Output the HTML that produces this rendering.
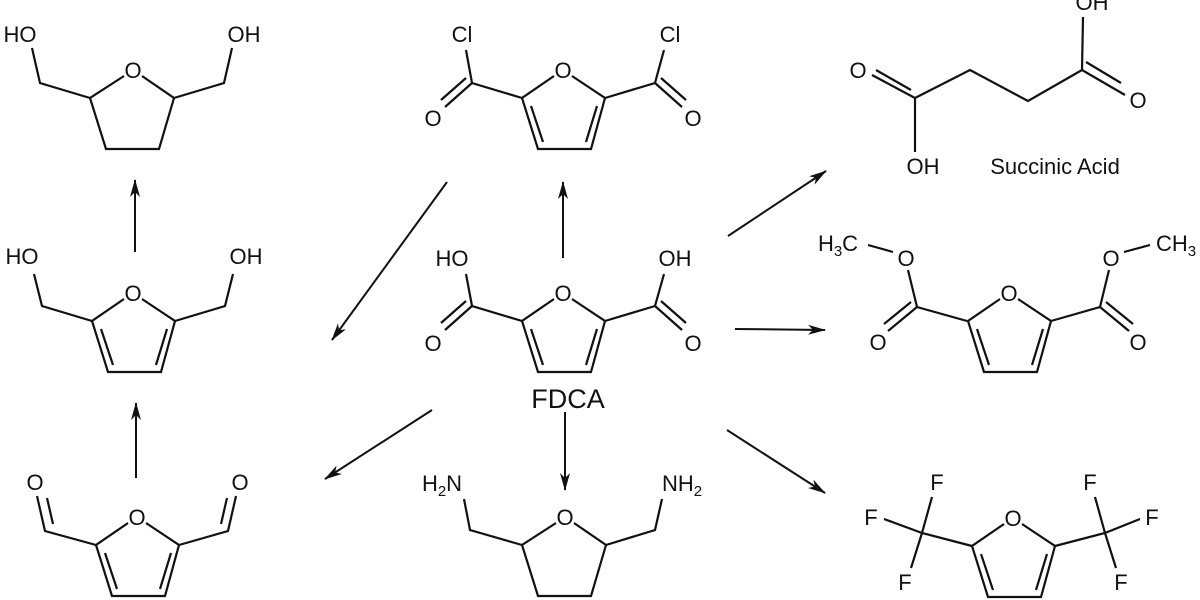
<!DOCTYPE html>
<html><head><style>
html,body{margin:0;padding:0;background:#fff;}
svg{display:block}
text{font-family:"Liberation Sans",Arial,sans-serif;font-size:22px;fill:#111;text-anchor:middle;}
</style></head><body>
<svg width="1200" height="600" viewBox="0 0 1200 600" xmlns="http://www.w3.org/2000/svg">
<defs>
<marker id="ah" viewBox="0 0 18 10" refX="17" refY="5" markerWidth="18" markerHeight="10" markerUnits="userSpaceOnUse" orient="auto">
<path d="M0,0 L18,5 L0,10 L5,5 Z" fill="#111"/>
</marker>
<g id="fur" stroke="#111" stroke-width="2.2" fill="none">
<path d="M-9,6 L-41,28 L-25,79 L28,79 L42,28 L9,6"/>
<path d="M-32,36 L-20,72 M23,72 L34,36"/>
</g>
<g id="thf" stroke="#111" stroke-width="2.2" fill="none">
<path d="M-9,6 L-43,28 L-27,79 L26,79 L41,28 L9,6"/>
</g>
</defs>

<g stroke="#111" stroke-width="2.2" fill="none">
<use href="#thf" x="133" y="70"/>
<path d="M90,98 L40,83 L32,48 M174,98 L224,83 L232,48"/>
<use href="#fur" x="133" y="293"/>
<path d="M92,321 L42,306 L34,274 M175,321 L225,306 L233,274"/>
<use href="#fur" x="137" y="517"/>
<path d="M96,545 L45,531 L37,496 M53,524 L47,498 M179,545 L228,531 L236,496 M221,524 L227,498"/>
<use href="#fur" x="563" y="70"/>
<path d="M522,98 L472,83 L466,50 M472,83 L445,107 M466,78 L441,100 M605,98 L655,83 L664,50 M655,83 L682,107 M661,78 L686,100"/>
<use href="#fur" x="563" y="293"/>
<path d="M522,321 L472,306 L466,274 M472,306 L445,330 M466,301 L441,323 M605,321 L655,306 L664,274 M655,306 L682,330 M661,301 L686,323"/>
<use href="#thf" x="565" y="517"/>
<path d="M522,545 L470,530 L464,499 M606,545 L655,530 L662,499"/>
<path d="M915,98 L970,70 L1028,101 L1082,70 M915,98 L915,152 M915,98 L872,75 M911,90 L876,70 M1082,70 L1083,17 M1082,70 L1125,95 M1086,62 L1121,83"/>
<use href="#fur" x="1009" y="293"/>
<path d="M967,321 L917,307 L908,270 M917,307 L888,331 M911,302 L884,324 M868,245 L893,252 M1051,321 L1100,307 L1109,270 M1100,307 L1129,331 M1106,302 L1133,324 M1124,252 L1150,245"/>
<use href="#fur" x="1013" y="518"/>
<path d="M972,546 L922,533 L932,497 M922,533 L884,519 M922,533 L911,568 M1055,546 L1105,533 L1095,497 M1105,533 L1140,519 M1105,533 L1116,568"/>
</g>

<g stroke="#111" stroke-width="2" fill="none" marker-end="url(#ah)">
<line x1="135" y1="252" x2="135" y2="180"/>
<line x1="136" y1="478" x2="136" y2="403"/>
<line x1="563" y1="258" x2="563" y2="182"/>
<line x1="565" y1="412" x2="565" y2="490"/>
<line x1="447" y1="182" x2="332" y2="340"/>
<line x1="432" y1="410" x2="325" y2="479"/>
<line x1="728" y1="236" x2="826" y2="171"/>
<line x1="735" y1="329" x2="825" y2="330"/>
<line x1="727" y1="430" x2="825" y2="493"/>
</g>

<text x="133" y="78">O</text>
<text x="20" y="42">HO</text>
<text x="244" y="42">OH</text>

<text x="133" y="301">O</text>
<text x="22" y="264">HO</text>
<text x="246" y="264">OH</text>

<text x="137" y="525">O</text>
<text x="35" y="490">O</text>
<text x="240" y="490">O</text>

<text x="563" y="78">O</text>
<text x="462" y="42">Cl</text>
<text x="670" y="42">Cl</text>
<text x="433" y="126">O</text>
<text x="693" y="126">O</text>

<text x="563" y="301">O</text>
<text x="452" y="266">HO</text>
<text x="675" y="266">OH</text>
<text x="433" y="351">O</text>
<text x="693" y="351">O</text>
<text x="568" y="408" style="font-size:27px">FDCA</text>

<text x="565" y="525">O</text>
<text x="442" y="491">H<tspan style="font-size:15px" dy="5">2</tspan><tspan dy="-5">N</tspan></text>
<text x="682" y="491">NH<tspan style="font-size:15px" dy="5">2</tspan></text>

<text x="858" y="78">O</text>
<text x="923" y="174">OH</text>
<text x="1092" y="10">OH</text>
<text x="1138" y="108">O</text>
<text x="1055" y="174">Succinic Acid</text>

<text x="1009" y="301">O</text>
<text x="838" y="251">H<tspan style="font-size:15px" dy="5">3</tspan><tspan dy="-5">C</tspan></text>
<text x="906" y="266">O</text>
<text x="1111" y="266">O</text>
<text x="1176" y="251">CH<tspan style="font-size:15px" dy="5">3</tspan></text>
<text x="878" y="350">O</text>
<text x="1138" y="350">O</text>

<text x="1013" y="526">O</text>
<text x="937" y="490">F</text>
<text x="871" y="525">F</text>
<text x="905" y="590">F</text>
<text x="1090" y="490">F</text>
<text x="1152" y="525">F</text>
<text x="1121" y="590">F</text>
</svg>
</body></html>
